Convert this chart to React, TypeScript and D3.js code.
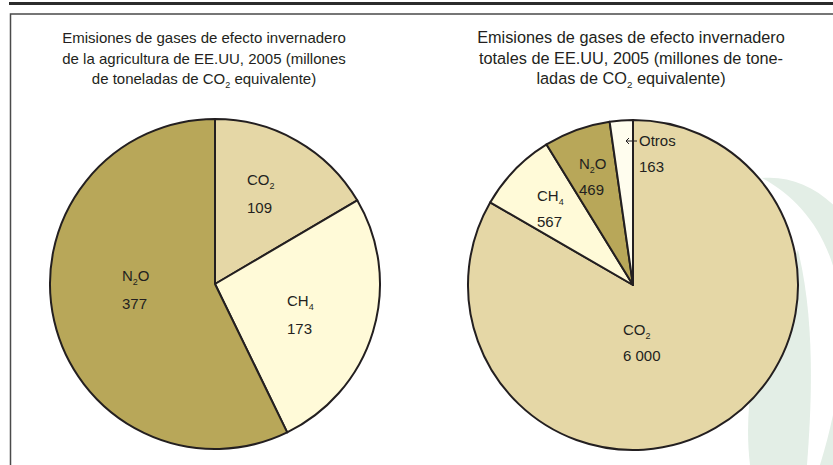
import React, { useEffect, useRef } from 'react';
import * as d3 from 'd3';

// Emisiones agricultura EE.UU 2005 (Mt CO2 eq)
const agriGases = ['CO2', 'CH4', 'N2O'];
const agriValues = [109, 173, 377];

// Emisiones totales EE.UU 2005 (Mt CO2 eq)
const totalGases = ['CO2', 'CH4', 'N2O', 'Otros'];
const totalValues = [6000, 567, 469, 163];

const agriTitle = [
  'Emisiones de gases de efecto invernadero',
  'de la agricultura de EE.UU, 2005 (millones',
  'de toneladas de CO2 equivalente)',
];
const totalTitle = [
  'Emisiones de gases de efecto invernadero',
  'totales de EE.UU, 2005 (millones de tone-',
  'ladas de CO2 equivalente)',
];

const gasColors: Record<string, string> = {
  CO2: '#e5d7a6',
  CH4: '#fffad8',
  N2O: '#b8a759',
  Otros: '#fffdee',
};

const W = 833;
const H = 465;
const INK = '#231f20';
const FONT = '"Liberation Sans", Arial, sans-serif';

const fmt = d3.formatLocale({ decimal: ',', thousands: ' ', grouping: [3], currency: ['', ''] }).format(',');

// splits "CO2" -> [["CO", false], ["2", true]]
function chemParts(s: string): [string, boolean][] {
  const out: [string, boolean][] = [];
  let cur = '';
  let sub = false;
  for (let i = 0; i < s.length; i++) {
    const ch = s[i];
    const isSub = /\d/.test(ch) && i > 0 && (/[A-Z]/.test(s[i - 1]) || (sub && /\d/.test(s[i - 1])));
    if (isSub !== sub && cur) {
      out.push([cur, sub]);
      cur = '';
    }
    sub = isSub;
    cur += ch;
  }
  if (cur) out.push([cur, sub]);
  return out;
}

function addChemText(sel: d3.Selection<SVGTextElement, unknown, null, undefined>, s: string, subSize: number) {
  let shift = 0;
  chemParts(s).forEach(([t, sub]) => {
    const sp = sel.append('tspan').text(t);
    if (sub) {
      sp.attr('font-size', subSize).attr('dy', 4);
      shift = 4;
    } else if (shift) {
      sp.attr('dy', -shift);
      shift = 0;
    }
  });
}

const App: React.FC = () => {
  const svgRef = useRef<SVGSVGElement>(null);

  useEffect(() => {
    if (!svgRef.current) return;
    const svg = d3.select(svgRef.current);
    svg.selectAll('*').remove();

    // frame
    svg.append('line').attr('x1', 9).attr('x2', W).attr('y1', 3.5).attr('y2', 3.5)
      .attr('stroke', '#2b2b2b').attr('stroke-width', 3);
    svg.append('path').attr('d', `M10.5,${H} V14 H${W}`)
      .attr('fill', 'none').attr('stroke', '#4a4a4a').attr('stroke-width', 1.5);

    // watermark bands
    const wm = svg.append('g').attr('fill', '#e3eee6');
    wm.append('path').attr('d',
      'M762,178 C850,170 920,300 880,465 L820,465 C870,300 830,215 762,178 Z');
    wm.append('path').attr('d',
      'M798,250 C815,320 812,400 807,465 L750,465 C740,380 770,300 798,250 Z');

    const radius = 165;
    const arc = d3.arc<d3.PieArcDatum<number>>().innerRadius(0).outerRadius(radius);
    const pie = d3.pie<number>().sort(null).value(d => d);

    const charts = [
      {
        cx: 215, cy: 284, titleX: 204, titleSize: 15, gases: agriGases, values: agriValues, title: agriTitle,
        lineGap: 28,
        labelOffsets: [[32, -99], [72, 22], [-93, -3]],
      },
      {
        cx: 633, cy: 285, titleX: 631, titleSize: 16.3, gases: totalGases, values: totalValues, title: totalTitle,
        lineGap: 26,
        labelOffsets: [[-10, 50], [-96, -84], [-54, -116], [6, -139]],
      },
    ];

    charts.forEach(c => {
      // title
      c.title.forEach((line, i) => {
        const t = svg.append('text')
          .attr('x', c.titleX)
          .attr('y', 43 + i * 20.5)
          .attr('text-anchor', 'middle')
          .attr('font-family', FONT)
          .attr('font-size', c.titleSize)
          .attr('fill', INK);
        addChemText(t, line, c.titleSize * 0.6);
      });

      const g = svg.append('g').attr('transform', `translate(${c.cx},${c.cy})`);
      const arcs = pie(c.values);

      g.selectAll('path.slice')
        .data(arcs)
        .enter()
        .append('path')
        .attr('class', 'slice')
        .attr('d', arc)
        .attr('fill', (d, i) => gasColors[c.gases[i]])
        .attr('stroke', INK)
        .attr('stroke-width', 2)
        .attr('stroke-linejoin', 'round');

      arcs.forEach((d, i) => {
        const [dx, dy] = c.labelOffsets[i];
        const name = c.gases[i];
        const t1 = g.append('text')
          .attr('x', dx).attr('y', dy)
          .attr('font-family', FONT).attr('font-size', 15).attr('fill', INK);
        addChemText(t1, name, 9);
        g.append('text')
          .attr('x', dx).attr('y', dy + c.lineGap)
          .attr('font-family', FONT).attr('font-size', 15).attr('fill', INK)
          .text(fmt(d.data));
        if (name === 'Otros') {
          const ay = dy - 5;
          g.append('path')
            .attr('d', `M${dx - 2},${ay} H${dx - 13} M${dx - 10},${ay - 3} L${dx - 13},${ay} L${dx - 10},${ay + 3}`)
            .attr('fill', 'none').attr('stroke', INK).attr('stroke-width', 1);
        }
      });
    });
  }, []);

  return (
    <svg
      ref={svgRef}
      width={W}
      height={H}
      style={{ position: 'absolute', left: 0, top: 0, background: '#fff' }}
    />
  );
};

export default App;
